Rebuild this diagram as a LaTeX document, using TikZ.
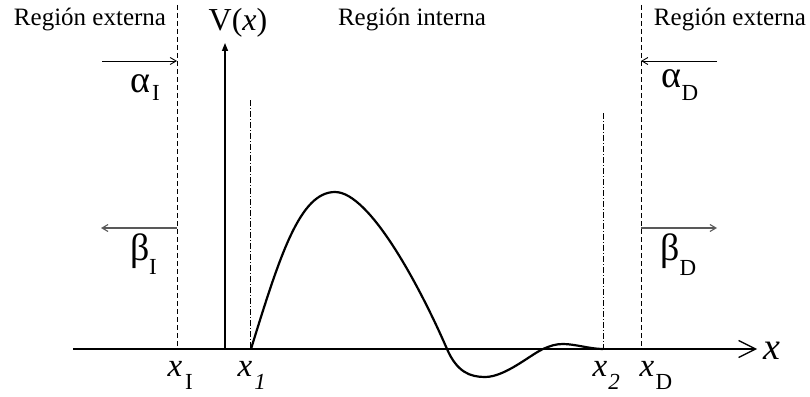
\documentclass[tikz,border=0pt]{standalone}
\usepackage{fontspec}
\setmainfont{Liberation Serif}
\usetikzlibrary{arrows.meta}
\begin{document}
\begin{tikzpicture}[x=1pt,y=-1pt,
  region/.style={font=\fontsize{25}{28}\selectfont, inner sep=0pt},
  greek/.style={font=\fontsize{38}{40}\selectfont, inner sep=0pt},
  xlab/.style={font=\fontsize{33}{36}\selectfont\itshape, inner sep=0pt},
  sublab/.style={font=\fontsize{23}{25}\selectfont, inner sep=0pt},
  subit/.style={font=\fontsize{23}{25}\selectfont\itshape, inner sep=0pt},
  boundary/.style={dash pattern=on 5pt off 3pt, line width=0.8pt},
  turning/.style={dash pattern=on 6pt off 2pt on 1pt off 2pt, line width=0.7pt},
  axis/.style={line width=1.4pt},
  flowa/.style={line width=0.9pt, -{Straight Barb[length=6pt,width=7pt]}},
  flowb/.style={line width=1.1pt, draw=black!65, -{Straight Barb[length=6pt,width=7pt]}},
  curve/.style={line width=2.2pt, line join=round}]
\useasboundingbox (0,0) rectangle (810,396);

% coordinates
\coordinate (ax0) at (73,349);
\coordinate (ax1) at (757,349);
\coordinate (vb) at (225,349);
\coordinate (vt) at (225,43);
\coordinate (dIt) at (177,5);
\coordinate (dIb) at (177,349);
\coordinate (dDt) at (641,5);
\coordinate (dDb) at (641,349);
\coordinate (t1t) at (250,100);
\coordinate (t1b) at (250,349);
\coordinate (t2t) at (603,113);
\coordinate (t2b) at (603,349);
\coordinate (aIs) at (102,61);
\coordinate (aIe) at (177,61);
\coordinate (aDs) at (717,61);
\coordinate (aDe) at (641,61);
\coordinate (bIs) at (177,228);
\coordinate (bIe) at (101,228);
\coordinate (bDs) at (641,228);
\coordinate (bDe) at (717,228);

% axes
\draw[axis, -{Straight Barb[length=17pt,width=17pt,line width=1.3pt]}] (ax0) -- (ax1);
\draw[axis, -{Triangle[length=8pt,width=6pt]}] (vb) -- (vt);

% boundaries
\draw[boundary] (dIt) -- (dIb);
\draw[boundary] (dDt) -- (dDb);
\draw[turning] (t1t) -- (t1b);
\draw[turning] (t2t) -- (t2b);

% flux arrows
\draw[flowa] (aIs) -- (aIe);
\draw[flowa] (aDs) -- (aDe);
\draw[flowb] (bIs) -- (bIe);
\draw[flowb] (bDs) -- (bDe);

% potential curve
\draw[curve] (251,349) .. controls (280,255) and (300,192) .. (335,192)
  .. controls (370,192) and (421,289) .. (447,349)
  .. controls (457,372) and (470,377) .. (485,377)
  .. controls (505,377) and (530,355) .. (543,349)
  .. controls (551,345.5) and (556,344) .. (563,344)
  .. controls (575,344) and (590,349) .. (603,349);

% texts
\node[region] (rl) at (90,20) {Región externa};
\node[region] (ri) at (412,20) {Región interna};
\node[region] (rr) at (730,20) {Región externa};
\node[font=\fontsize{32}{34}\selectfont, inner sep=0pt] (vx) at (238,23) {V(\textit{x})};

\node[greek] (alI) at (140,84) {α};
\node[sublab] (alIs) at (156,93) {I};
\node[greek] (alD) at (671,79) {α};
\node[sublab] (alDs) at (690,93) {D};
\node[greek] (beI) at (140,251) {β};
\node[sublab] (beIs) at (153,267) {I};
\node[greek] (beD) at (670,251) {β};
\node[sublab] (beDs) at (688,268) {D};

\node[xlab] (xI) at (175,369) {x};
\node[sublab] (xIs) at (189,382) {I};
\node[xlab] (x1) at (245,369) {x};
\node[subit] (x1s) at (260,382) {1};
\node[xlab] (x2) at (600,369) {x};
\node[subit] (x2s) at (614,382) {2};
\node[xlab] (xD) at (647,369) {x};
\node[sublab] (xDs) at (664,382) {D};
\node[xlab, font=\fontsize{38}{40}\selectfont\itshape] (xx) at (772,351) {x};
\end{tikzpicture}
\end{document}
